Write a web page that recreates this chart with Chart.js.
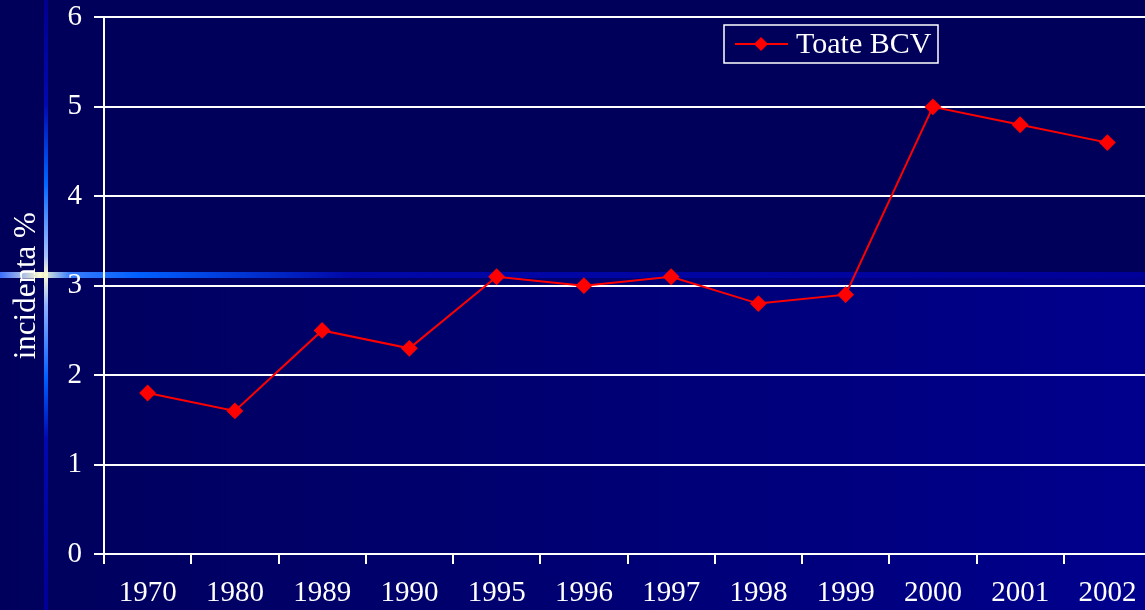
<!DOCTYPE html>
<html>
<head>
<meta charset="utf-8">
<script src="https://cdn.jsdelivr.net/npm/chart.js@4"></script>
<style>
  html, body { margin: 0; padding: 0; overflow: hidden; background: #00005a; }
  #wrap { width: 1160px; height: 622px; position: relative; top: -12px; }
</style>
</head>
<body>
<div id="wrap"><canvas id="chart"></canvas></div>
<script>
// Chart data
const years = ['1970', '1980', '1989', '1990', '1995', '1996', '1997', '1998', '1999', '2000', '2001', '2002'];
const incidence = [1.8, 1.6, 2.5, 2.3, 3.1, 3.0, 3.1, 2.8, 2.9, 5.0, 4.8, 4.6];
const seriesName = 'Toate BCV';
const yTitle = 'incidenta %';

const serif = "'Liberation Serif', 'Times New Roman', serif";
const shift = 12; // canvas is moved up by this much

// Slide-style background with the glowing cross lines
const backdrop = {
    id: 'backdrop',
    beforeDraw(chart) {
        const c = chart.ctx, w = chart.width, h = chart.height;
        const mid = 275 + shift;
        c.save();
        c.fillStyle = '#00005a';
        c.fillRect(0, 0, w, h);
        let g = c.createLinearGradient(0, 0, w, 0);
        g.addColorStop(0, '#00005c');
        g.addColorStop(0.45, '#000070');
        g.addColorStop(1, '#00008e');
        c.fillStyle = g;
        c.fillRect(0, mid, w, h - mid);

        // horizontal glow
        g = c.createLinearGradient(0, 0, w, 0);
        g.addColorStop(0, '#3a6cff');
        g.addColorStop(0.035, '#fffbd0');
        g.addColorStop(0.06, '#3a7dff');
        g.addColorStop(0.12, '#0060ff');
        g.addColorStop(0.3, '#0008a8');
        g.addColorStop(1, '#000098');
        c.fillStyle = g;
        c.fillRect(0, mid - 3, w, 6);

        // vertical glow
        g = c.createLinearGradient(0, shift, 0, h);
        g.addColorStop(0, '#000090');
        g.addColorStop(0.17, '#0008b0');
        g.addColorStop(0.3, '#0066ff');
        g.addColorStop(0.42, '#a8c0ff');
        g.addColorStop(0.45, '#fffbd0');
        g.addColorStop(0.5, '#8fb0ff');
        g.addColorStop(0.62, '#0060ff');
        g.addColorStop(0.72, '#0008b0');
        g.addColorStop(1, '#000098');
        c.fillStyle = g;
        c.fillRect(44, 0, 4, h);
        c.restore();
    }
};

// Boxed legend in the upper right, like the original slide
const boxLegend = {
    id: 'boxLegend',
    afterDraw(chart) {
        const c = chart.ctx;
        const ds = chart.data.datasets[0];
        const x = 724, y = 25 + shift, w = 214, h = 38;
        c.save();
        c.strokeStyle = '#ffffff';
        c.lineWidth = 1.5;
        c.strokeRect(x, y, w, h);
        c.strokeStyle = ds.borderColor;
        c.lineWidth = 2;
        c.beginPath();
        c.moveTo(x + 11, y + 19);
        c.lineTo(x + 64, y + 19);
        c.stroke();
        c.fillStyle = ds.pointBackgroundColor;
        c.beginPath();
        c.moveTo(x + 37, y + 12);
        c.lineTo(x + 44, y + 19);
        c.lineTo(x + 37, y + 26);
        c.lineTo(x + 30, y + 19);
        c.closePath();
        c.fill();
        c.fillStyle = '#ffffff';
        c.font = '30px ' + serif;
        c.textBaseline = 'middle';
        c.fillText(ds.label, x + 72, y + 20);
        c.restore();
    }
};

new Chart(document.getElementById('chart'), {
    type: 'line',
    data: {
        labels: years,
        datasets: [{
            label: seriesName,
            data: incidence,
            borderColor: '#ff0000',
            borderWidth: 2,
            pointStyle: 'rectRot',
            pointRadius: 7,
            pointBackgroundColor: '#ff0000',
            pointBorderColor: '#ff0000',
            tension: 0
        }]
    },
    options: {
        responsive: true,
        maintainAspectRatio: false,
        animation: false,
        layout: { padding: { top: 4, right: 5, left: 0, bottom: 0 } },
        plugins: {
            legend: { display: false },
            tooltip: { enabled: false }
        },
        scales: {
            x: {
                offset: true,
                grid: {
                    offset: true,
                    drawOnChartArea: false,
                    color: '#ffffff',
                    lineWidth: 2,
                    tickLength: 10
                },
                border: { color: '#ffffff', width: 2 },
                ticks: {
                    color: '#ffffff',
                    font: { family: serif, size: 29 },
                    padding: 12,
                    maxRotation: 0,
                    autoSkip: false
                },
                afterFit(scale) { scale.height = 56; }
            },
            y: {
                min: 0,
                max: 6,
                grid: {
                    color: '#ffffff',
                    lineWidth: 2,
                    tickLength: 10
                },
                border: { color: '#ffffff', width: 2 },
                ticks: {
                    stepSize: 1,
                    color: '#ffffff',
                    font: { family: serif, size: 29 },
                    padding: 12
                },
                title: {
                    display: true,
                    text: yTitle,
                    color: '#ffffff',
                    font: { family: serif, size: 31 },
                    padding: { top: 8, bottom: 0 }
                },
                afterFit(scale) { scale.width = 104; }
            }
        }
    },
    plugins: [backdrop, boxLegend]
});
</script>
</body>
</html>
